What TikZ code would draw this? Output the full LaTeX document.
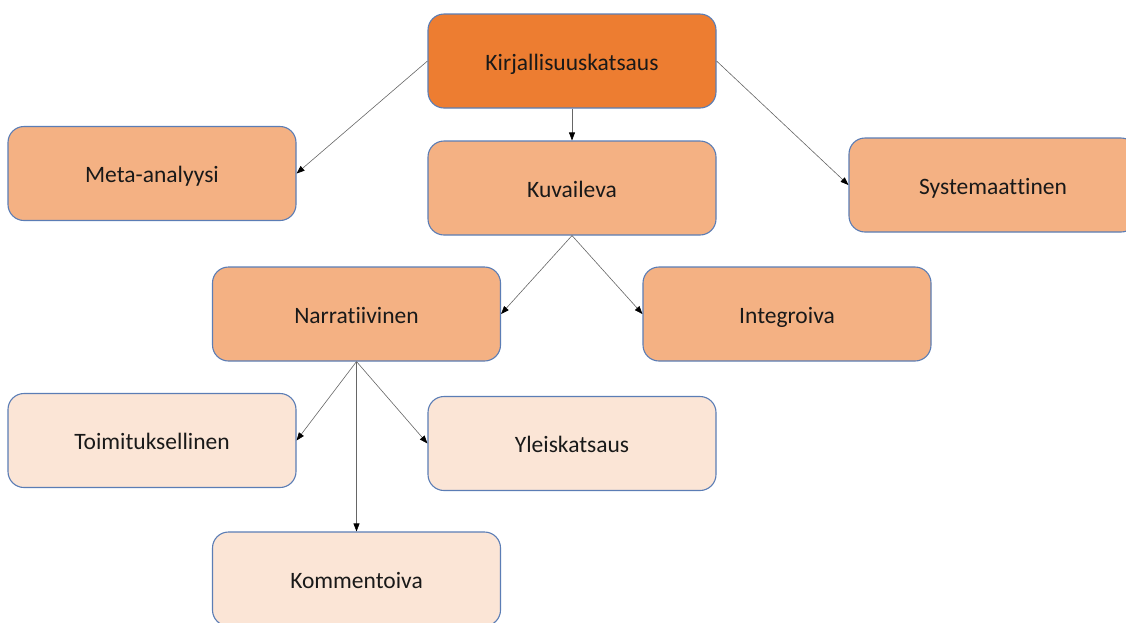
\documentclass[tikz,border=0pt]{standalone}
\usepackage{fontspec}
\setmainfont{Carlito}[Ligatures={NoCommon,NoContextual,NoRequired}]
\usetikzlibrary{arrows.meta}
\definecolor{dark}{HTML}{ED7D31}
\definecolor{mid}{HTML}{F4B183}
\definecolor{light}{HTML}{FBE5D6}
\definecolor{edge}{HTML}{5B7DB5}
\tikzset{
  box/.style={draw=edge, line width=1.1pt, rounded corners=16pt, minimum width=288pt, minimum height=94pt, inner sep=0pt, text height=20pt, text depth=2pt, font=\fontsize{23.5}{28}\selectfont, text=black!90},
  conn/.style={draw=black!60, line width=0.6pt, -{Triangle[length=8pt,width=6pt,color=black]}}
}
\begin{document}
\begin{tikzpicture}[x=1pt,y=-1pt]
\useasboundingbox (0,0) rectangle (1126,622);
\clip (0,0) rectangle (1126,622);
\node[box, fill=dark] (K) at (572,61) {Kirjallisuuskatsaus};
\node[box, fill=mid] (M) at (152,173.5) {Meta-analyysi};
\node[box, fill=mid] (Ku) at (572,188) {Kuvaileva};
\node[box, fill=mid] (S) at (993,185) {Systemaat\kern0pt t\kern0pt inen};
\node[box, fill=mid] (N) at (356.5,314) {Narrat\kern0pt iivinen};
\node[box, fill=mid] (I) at (787,314) {Integroiva};
\node[box, fill=light] (T) at (152,440.5) {Toimituksellinen};
\node[box, fill=light] (Y) at (572,443.5) {Yleiskatsaus};
\node[box, fill=light] (Ko) at (356.5,579) {Kommentoiva};
\draw[conn] (K.west) -- (M.east);
\draw[conn] (K.south) -- (Ku.north);
\draw[conn] (K.east) -- (S.west);
\draw[conn] (Ku.south) -- (N.east);
\draw[conn] (Ku.south) -- (I.west);
\draw[conn] (N.south) -- (T.east);
\draw[conn] (N.south) -- (Y.west);
\draw[conn] (N.south) -- (Ko.north);
\end{tikzpicture}
\end{document}
